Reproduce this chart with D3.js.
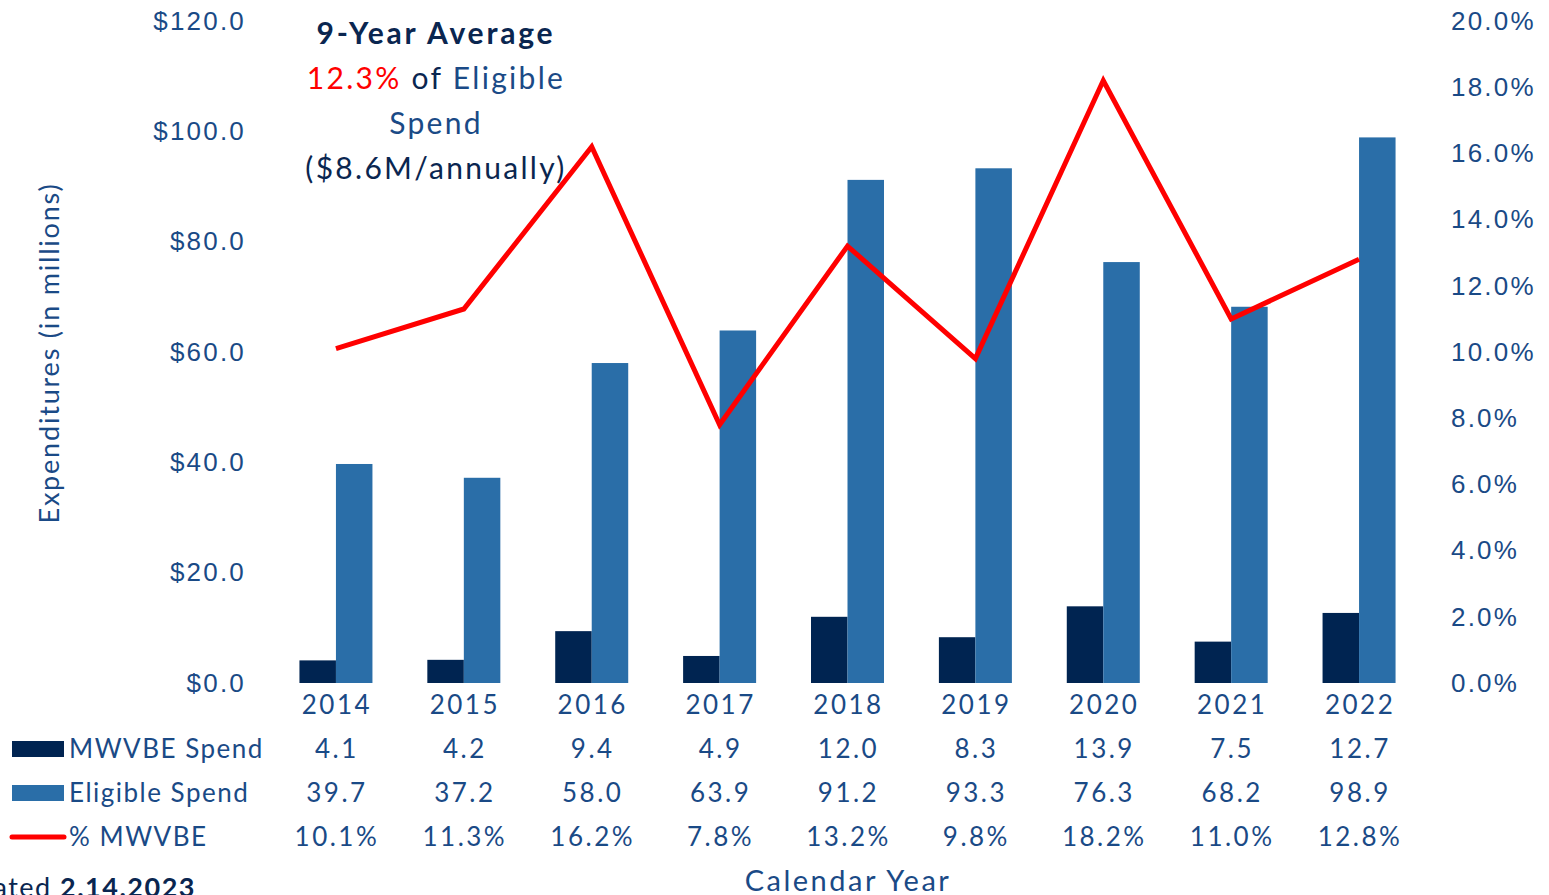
<!DOCTYPE html>
<html lang="en">
<head>
    <meta charset="UTF-8">
    <title>MWVBE Spend vs Eligible Spend</title>
    <script src="https://d3js.org/d3.v7.min.js"></script>
    <style>
        body { margin: 0; background: #fff; }
        svg { font-family: Lato, "Open Sans", sans-serif; }
        .tick-label { font-size: 26px; fill: #1a4a86; letter-spacing: 2.2px; }
        .table-text { font-size: 26px; fill: #1a4a86; letter-spacing: 2.5px; }
        .legend-text { font-size: 26px; fill: #1a4a86; letter-spacing: 1.5px; }
    </style>
</head>
<body>
    <svg width="1549" height="895"></svg>

    <script>
        const years = ["2014", "2015", "2016", "2017", "2018", "2019", "2020", "2021", "2022"];
        const mwvbeSpend = [4.1, 4.2, 9.4, 4.9, 12.0, 8.3, 13.9, 7.5, 12.7];
        const eligibleSpend = [39.7, 37.2, 58.0, 63.9, 91.2, 93.3, 76.3, 68.2, 98.9];
        const pctMwvbe = [10.1, 11.3, 16.2, 7.8, 13.2, 9.8, 18.2, 11.0, 12.8];
        const leftTicks = [0, 20, 40, 60, 80, 100, 120];
        const rightTicks = [0, 2, 4, 6, 8, 10, 12, 14, 16, 18, 20];

        const navy = "#002451", blue = "#2a6ea8", red = "#ff0000", textBlue = "#1a4a86";

        const svg = d3.select("svg");
        const plotLeft = 272, plotRight = 1423, plotTop = 21, plotBottom = 683;

        const x = d3.scaleBand().domain(years).range([plotLeft, plotRight]);
        const yL = d3.scaleLinear().domain([0, 120]).range([plotBottom, plotTop]);
        const yR = d3.scaleLinear().domain([0, 20]).range([plotBottom, plotTop]);
        const barW = 36.5;

        // left axis labels
        svg.append("g")
            .attr("transform", `translate(${246},0)`)
            .call(d3.axisLeft(yL).tickValues(leftTicks).tickSize(0).tickPadding(0)
                .tickFormat(d => "$" + d.toFixed(1)))
            .call(g => g.select(".domain").remove())
            .selectAll("text").attr("class", "tick-label").attr("font-family", null).attr("font-size", null);

        // right axis labels
        svg.append("g")
            .attr("transform", `translate(${1451},0)`)
            .call(d3.axisRight(yR).tickValues(rightTicks).tickSize(0).tickPadding(0)
                .tickFormat(d => d.toFixed(1) + "%"))
            .call(g => g.select(".domain").remove())
            .selectAll("text").attr("class", "tick-label").attr("font-family", null).attr("font-size", null);

        // bars
        svg.selectAll(".bar-m")
            .data(years)
            .enter().append("rect")
            .attr("x", d => x(d) + x.bandwidth() / 2 - barW)
            .attr("y", (d, i) => yL(mwvbeSpend[i]))
            .attr("width", barW)
            .attr("height", (d, i) => plotBottom - yL(mwvbeSpend[i]))
            .attr("fill", navy);

        svg.selectAll(".bar-e")
            .data(years)
            .enter().append("rect")
            .attr("x", d => x(d) + x.bandwidth() / 2)
            .attr("y", (d, i) => yL(eligibleSpend[i]))
            .attr("width", barW)
            .attr("height", (d, i) => plotBottom - yL(eligibleSpend[i]))
            .attr("fill", blue);

        // % line
        const line = d3.line()
            .x((d, i) => x(years[i]) + x.bandwidth() / 2)
            .y(d => yR(d));
        svg.append("path")
            .datum(pctMwvbe)
            .attr("d", line)
            .attr("fill", "none")
            .attr("stroke", red)
            .attr("stroke-width", 5)
            .attr("stroke-linejoin", "miter");

        // data table
        const rows = [
            {y: 705, vals: years},
            {y: 749, vals: mwvbeSpend.map(d => d.toFixed(1))},
            {y: 793, vals: eligibleSpend.map(d => d.toFixed(1))},
            {y: 837, vals: pctMwvbe.map(d => d.toFixed(1) + "%")}
        ];
        rows.forEach(r => {
            svg.append("g").selectAll("text")
                .data(r.vals)
                .enter().append("text")
                .attr("class", "table-text")
                .attr("x", (d, i) => x(years[i]) + x.bandwidth() / 2 + 1)
                .attr("y", r.y)
                .attr("dy", "0.35em")
                .attr("text-anchor", "middle")
                .text(d => d);
        });

        // legend in the table
        const legend = [
            {label: "MWVBE Spend", color: navy, type: "rect", y: 749},
            {label: "Eligible Spend", color: blue, type: "rect", y: 793},
            {label: "% MWVBE", color: red, type: "line", y: 837}
        ];
        legend.forEach(l => {
            if (l.type === "rect") {
                svg.append("rect").attr("x", 12).attr("y", l.y - 8).attr("width", 52).attr("height", 16).attr("fill", l.color);
            } else {
                svg.append("line").attr("x1", 12).attr("x2", 64).attr("y1", l.y).attr("y2", l.y)
                    .attr("stroke", l.color).attr("stroke-width", 5).attr("stroke-linecap", "round");
            }
            svg.append("text").attr("class", "legend-text")
                .attr("x", 69).attr("y", l.y).attr("dy", "0.35em").text(l.label);
        });

        // axis titles
        svg.append("text")
            .attr("transform", "translate(50,353) rotate(-90)")
            .attr("text-anchor", "middle")
            .attr("dy", "0.35em")
            .attr("font-size", 27)
            .attr("letter-spacing", 1.8)
            .attr("fill", textBlue)
            .text("Expenditures (in millions)");

        svg.append("text")
            .attr("x", 848).attr("y", 881)
            .attr("dy", "0.35em")
            .attr("text-anchor", "middle")
            .attr("font-size", 29)
            .attr("letter-spacing", 2.5)
            .attr("fill", textBlue)
            .text("Calendar Year");

        // updated note (cut off at left edge)
        const note = svg.append("text")
            .attr("x", 196).attr("y", 897)
            .attr("text-anchor", "end")
            .attr("font-size", 27)
            .attr("letter-spacing", 1.5)
            .attr("fill", "#0a2650");
        note.append("tspan").text("Updated ");
        note.append("tspan").attr("font-weight", "bold").text("2.14.2023");

        // annotation
        const ann = svg.append("text").attr("text-anchor", "middle").attr("font-size", 30);
        ann.append("tspan").attr("x", 436).attr("y", 33).attr("dy", "0.35em")
            .attr("font-weight", "bold").attr("letter-spacing", 2.8).attr("fill", "#0a2650").text("9-Year Average");
        const l2 = ann.append("tspan").attr("x", 436).attr("y", 78).attr("dy", "0.35em").attr("letter-spacing", 2.3);
        l2.append("tspan").attr("fill", red).text("12.3%");
        l2.append("tspan").attr("fill", "#0a2650").text(" of ");
        l2.append("tspan").attr("fill", textBlue).text("Eligible");
        ann.append("tspan").attr("x", 436).attr("y", 123).attr("dy", "0.35em").attr("letter-spacing", 2.3)
            .attr("fill", textBlue).text("Spend");
        ann.append("tspan").attr("x", 436).attr("y", 168).attr("dy", "0.35em").attr("letter-spacing", 2.3)
            .attr("fill", "#0a2650").text("($8.6M/annually)");
    </script>
</body>
</html>
